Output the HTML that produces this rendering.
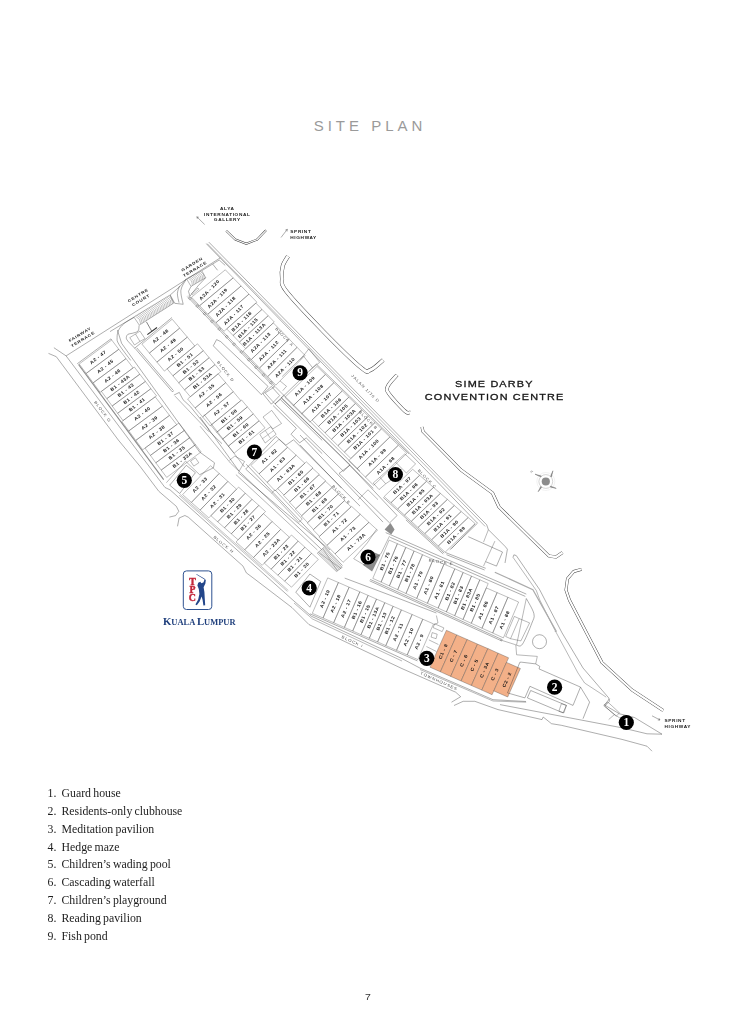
<!DOCTYPE html>
<html><head><meta charset="utf-8"><title>Site Plan</title>
<style>
html,body{margin:0;padding:0;background:#fff;}
body{width:736px;height:1024px;position:relative;overflow:hidden;font-family:"Liberation Serif",serif;}
#map{position:absolute;left:0;top:0;will-change:transform;}
.title{position:absolute;left:2px;width:736px;top:116.5px;text-align:center;font-family:"Liberation Sans",sans-serif;font-size:15px;letter-spacing:4px;color:#9a9a9a;}
.legend{position:absolute;left:47.5px;top:785px;margin:0;padding:0;list-style:none;font-size:11.8px;line-height:17.85px;color:#1d1d1d;word-spacing:-.7px}
.legend li{white-space:nowrap}
.legend span{display:inline-block;width:14px}
.pg{position:absolute;left:364.6px;top:991.6px;font-family:"Liberation Sans",sans-serif;font-size:8.4px;color:#333;transform:scaleX(1.25);transform-origin:0 0}
svg .blk polygon{stroke:#4a4a4a;stroke-width:.36}
svg .lt{font-family:"Liberation Sans",sans-serif;font-size:4.5px;font-weight:bold;letter-spacing:.3px;text-anchor:middle;dominant-baseline:central;fill:#151515}
svg .sl{font-family:"Liberation Sans",sans-serif;font-size:3.8px;font-weight:bold;letter-spacing:.5px;fill:#1a1a1a}
svg .bl{font-family:"Liberation Sans",sans-serif;font-size:3.7px;letter-spacing:.7px;fill:#4a4a4a;text-anchor:middle;dominant-baseline:central}
svg .big{font-family:"Liberation Sans",sans-serif;font-size:8.7px;letter-spacing:.92px;fill:#151515;stroke:#151515;stroke-width:.28px;text-anchor:middle}
svg .num{font-family:"Liberation Serif",serif;font-size:11.5px;font-weight:bold;fill:#fff;text-anchor:middle}
</style></head><body>
<div class="title">SITE PLAN</div>
<svg id="map" width="736" height="1024" viewBox="0 0 736 1024">
<path d="M226.2,230.7 L235.3,239.5 L246.3,243.7 L257.2,239.5 L266.0,230.3" fill="none" stroke="#333" stroke-width="2.00" stroke-linejoin="round"/>
<path d="M226.2,230.7 L235.3,239.5 L246.3,243.7 L257.2,239.5 L266.0,230.3" fill="none" stroke="#fff" stroke-width="1.20" stroke-linejoin="round"/>
<path d="M288.0,256.2 C287.1,257.8 283.8,262.1 282.8,265.8 C281.8,269.4 281.4,273.7 282.0,278.0 C282.6,282.3 279.5,282.5 286.5,291.5 C293.5,300.5 311.3,319.0 323.8,331.8 C336.2,344.5 353.5,361.4 361.2,367.8 C369.0,374.1 366.8,371.3 370.5,370.0 C374.2,368.7 381.1,361.7 383.2,360.0" fill="none" stroke="#333" stroke-width="4.00" stroke-linejoin="round"/>
<path d="M288.0,256.2 C287.1,257.8 283.8,262.1 282.8,265.8 C281.8,269.4 281.4,273.7 282.0,278.0 C282.6,282.3 279.5,282.5 286.5,291.5 C293.5,300.5 311.3,319.0 323.8,331.8 C336.2,344.5 353.5,361.4 361.2,367.8 C369.0,374.1 366.8,371.3 370.5,370.0 C374.2,368.7 381.1,361.7 383.2,360.0" fill="none" stroke="#fff" stroke-width="3.20" stroke-linejoin="round"/>
<path d="M397.0,375.0 C395.5,376.9 389.1,383.1 387.8,386.2 C386.4,389.4 386.1,389.6 389.0,393.8 C391.9,397.9 401.5,408.1 405.0,411.2 C408.5,414.4 409.2,412.3 410.0,412.5" fill="none" stroke="#333" stroke-width="3.60" stroke-linejoin="round"/>
<path d="M397.0,375.0 C395.5,376.9 389.1,383.1 387.8,386.2 C386.4,389.4 386.1,389.6 389.0,393.8 C391.9,397.9 401.5,408.1 405.0,411.2 C408.5,414.4 409.2,412.3 410.0,412.5" fill="none" stroke="#fff" stroke-width="2.80" stroke-linejoin="round"/>
<path d="M422.0,427.0 L423.0,431.5 L461.0,470.0 L492.5,493.0 L499.0,507.0 L549.0,556.0 L556.0,557.0 L562.5,552.5" fill="none" stroke="#333" stroke-width="3.10" stroke-linejoin="round"/>
<path d="M422.0,427.0 L423.0,431.5 L461.0,470.0 L492.5,493.0 L499.0,507.0 L549.0,556.0 L556.0,557.0 L562.5,552.5" fill="none" stroke="#fff" stroke-width="2.30" stroke-linejoin="round"/>
<path d="M581.5,569.3 L573.7,571.5 L567.5,578.8 L566.0,590.0 L569.4,600.0 L602.0,662.5 L632.0,690.0 L663.2,710.5" fill="none" stroke="#333" stroke-width="2.90" stroke-linejoin="round"/>
<path d="M581.5,569.3 L573.7,571.5 L567.5,578.8 L566.0,590.0 L569.4,600.0 L602.0,662.5 L632.0,690.0 L663.2,710.5" fill="none" stroke="#fff" stroke-width="2.10" stroke-linejoin="round"/>
<g class="blk"><polygon points="79.2,364.0 86.2,373.4 118.8,349.3 111.7,340.0" fill="none"/>
<text class="lt" transform="translate(98.1 357.3) rotate(-38.0) scale(1.16 1)">A2 - 47</text>
<polygon points="86.2,373.4 93.2,382.8 126.0,358.6 118.8,349.3" fill="none"/>
<text class="lt" transform="translate(105.3 366.5) rotate(-38.0) scale(1.16 1)">A2 - 45</text>
<polygon points="93.2,382.8 100.1,392.3 133.1,367.9 126.0,358.6" fill="none"/>
<text class="lt" transform="translate(112.6 375.8) rotate(-38.0) scale(1.16 1)">A2 - 46</text>
<polygon points="101.4,391.4 106.8,398.7 139.8,374.2 134.3,367.0" fill="none"/>
<text class="lt" transform="translate(120.2 383.1) rotate(-38.0) scale(1.16 1)">B1 - 43A</text>
<polygon points="106.8,398.7 112.2,406.0 145.4,381.4 139.8,374.2" fill="none"/>
<text class="lt" transform="translate(125.8 390.2) rotate(-38.0) scale(1.16 1)">B1 - 43</text>
<polygon points="112.2,406.0 117.6,413.3 150.9,388.7 145.4,381.4" fill="none"/>
<text class="lt" transform="translate(131.5 397.4) rotate(-38.0) scale(1.16 1)">B1 - 42</text>
<polygon points="117.6,413.3 123.0,420.6 156.5,395.9 150.9,388.7" fill="none"/>
<text class="lt" transform="translate(137.1 404.6) rotate(-38.0) scale(1.16 1)">B1 - 41</text>
<polygon points="121.8,421.5 128.8,430.9 162.4,406.1 155.2,396.8" fill="none"/>
<text class="lt" transform="translate(142.3 413.6) rotate(-38.0) scale(1.16 1)">A2 - 40</text>
<polygon points="128.8,430.9 135.8,440.4 169.5,415.4 162.4,406.1" fill="none"/>
<text class="lt" transform="translate(149.6 422.9) rotate(-38.0) scale(1.16 1)">A2 - 39</text>
<polygon points="135.8,440.4 142.7,449.8 176.7,424.7 169.5,415.4" fill="none"/>
<text class="lt" transform="translate(156.8 432.1) rotate(-38.0) scale(1.16 1)">A2 - 38</text>
<polygon points="145.0,448.1 150.4,455.4 184.5,430.3 178.9,423.0" fill="none"/>
<text class="lt" transform="translate(165.6 438.5) rotate(-38.0) scale(1.16 1)">B1 - 37</text>
<polygon points="150.4,455.4 155.8,462.8 190.0,437.5 184.5,430.3" fill="none"/>
<text class="lt" transform="translate(171.3 445.7) rotate(-38.0) scale(1.16 1)">B1 - 36</text>
<polygon points="155.8,462.8 161.2,470.1 195.5,444.7 190.0,437.5" fill="none"/>
<text class="lt" transform="translate(176.9 452.8) rotate(-38.0) scale(1.16 1)">B1 - 35</text>
<polygon points="161.2,470.1 166.7,477.4 201.1,451.9 195.5,444.7" fill="none"/>
<text class="lt" transform="translate(182.5 460.0) rotate(-38.0) scale(1.16 1)">B1 - 33A</text></g>
<g class="blk"><polygon points="141.9,344.1 149.4,353.1 179.7,328.1 172.2,319.2" fill="none"/>
<text class="lt" transform="translate(160.6 336.3) rotate(-39.5) scale(1.16 1)">A2 - 48</text>
<polygon points="149.4,353.1 156.9,362.1 187.3,337.1 179.7,328.1" fill="none"/>
<text class="lt" transform="translate(168.1 345.3) rotate(-39.5) scale(1.16 1)">A2 - 49</text>
<polygon points="156.9,362.1 164.4,371.1 194.8,346.0 187.3,337.1" fill="none"/>
<text class="lt" transform="translate(175.7 354.2) rotate(-39.5) scale(1.16 1)">A2 - 50</text>
<polygon points="167.1,368.8 172.9,375.8 203.3,350.7 197.5,343.8" fill="none"/>
<text class="lt" transform="translate(185.0 359.9) rotate(-39.5) scale(1.16 1)">B1 - 51</text>
<polygon points="172.9,375.8 178.7,382.8 209.2,357.7 203.3,350.7" fill="none"/>
<text class="lt" transform="translate(190.9 366.9) rotate(-39.5) scale(1.16 1)">B1 - 52</text>
<polygon points="178.7,382.8 184.5,389.8 215.0,364.6 209.2,357.7" fill="none"/>
<text class="lt" transform="translate(196.7 373.8) rotate(-39.5) scale(1.16 1)">B1 - 53</text>
<polygon points="184.5,389.8 190.3,396.7 220.9,371.6 215.0,364.6" fill="none"/>
<text class="lt" transform="translate(202.6 380.8) rotate(-39.5) scale(1.16 1)">B1 - 53A</text>
<polygon points="187.6,399.0 195.1,408.0 225.7,382.7 218.2,373.8" fill="none"/>
<text class="lt" transform="translate(206.6 390.9) rotate(-39.5) scale(1.16 1)">A2 - 55</text>
<polygon points="195.1,408.0 202.6,416.9 233.3,391.7 225.7,382.7" fill="none"/>
<text class="lt" transform="translate(214.1 399.9) rotate(-39.5) scale(1.16 1)">A2 - 56</text>
<polygon points="202.6,416.9 210.1,425.9 240.8,400.6 233.3,391.7" fill="none"/>
<text class="lt" transform="translate(221.6 408.8) rotate(-39.5) scale(1.16 1)">A2 - 57</text>
<polygon points="210.9,425.3 216.7,432.3 247.4,406.9 241.6,400.0" fill="none"/>
<text class="lt" transform="translate(229.1 416.2) rotate(-39.5) scale(1.16 1)">B1 - 58</text>
<polygon points="216.7,432.3 222.5,439.2 253.3,413.9 247.4,406.9" fill="none"/>
<text class="lt" transform="translate(234.9 423.1) rotate(-39.5) scale(1.16 1)">B1 - 59</text>
<polygon points="222.5,439.2 228.3,446.2 259.1,420.8 253.3,413.9" fill="none"/>
<text class="lt" transform="translate(240.8 430.1) rotate(-39.5) scale(1.16 1)">B1 - 60</text>
<polygon points="228.3,446.2 234.1,453.2 265.0,427.8 259.1,420.8" fill="none"/>
<text class="lt" transform="translate(246.6 437.0) rotate(-39.5) scale(1.16 1)">B1 - 61</text></g>
<g class="blk"><polygon points="191.5,297.2 199.6,305.7 233.2,277.9 225.3,269.8" fill="none"/>
<text class="lt" transform="translate(209.5 290.0) rotate(-45.0) scale(1.16 1)">A2A - 120</text>
<polygon points="199.6,305.7 207.8,314.2 241.1,286.0 233.2,277.9" fill="none"/>
<text class="lt" transform="translate(217.6 298.3) rotate(-45.0) scale(1.16 1)">A2A - 119</text>
<polygon points="207.8,314.2 216.0,322.7 249.0,294.1 241.1,286.0" fill="none"/>
<text class="lt" transform="translate(225.7 306.6) rotate(-45.0) scale(1.16 1)">A2A - 118</text>
<polygon points="216.0,322.7 224.1,331.2 256.9,302.2 249.0,294.1" fill="none"/>
<text class="lt" transform="translate(233.8 314.9) rotate(-45.0) scale(1.16 1)">A2A - 117</text>
<polygon points="226.7,328.9 233.1,335.5 262.0,309.4 255.9,303.1" fill="none"/>
<text class="lt" transform="translate(241.7 321.6) rotate(-45.0) scale(1.16 1)">B1A - 116</text>
<polygon points="233.1,335.5 239.4,342.1 268.2,315.7 262.0,309.4" fill="none"/>
<text class="lt" transform="translate(248.0 328.1) rotate(-45.0) scale(1.16 1)">B1A - 115</text>
<polygon points="239.4,342.1 245.7,348.6 274.3,322.0 268.2,315.7" fill="none"/>
<text class="lt" transform="translate(254.3 334.5) rotate(-45.0) scale(1.16 1)">B1A - 113A</text>
<polygon points="243.1,351.0 251.3,359.5 281.3,331.0 273.3,322.9" fill="none"/>
<text class="lt" transform="translate(260.7 342.6) rotate(-45.0) scale(1.16 1)">A2A - 113</text>
<polygon points="251.3,359.5 259.5,368.0 289.2,339.1 281.3,331.0" fill="none"/>
<text class="lt" transform="translate(268.8 350.9) rotate(-45.0) scale(1.16 1)">A2A - 112</text>
<polygon points="259.5,368.0 267.7,376.6 297.1,347.3 289.2,339.1" fill="none"/>
<text class="lt" transform="translate(276.9 359.2) rotate(-45.0) scale(1.16 1)">A2A - 111</text>
<polygon points="267.7,376.6 275.9,385.1 305.0,355.4 297.1,347.3" fill="none"/>
<text class="lt" transform="translate(285.0 367.5) rotate(-45.0) scale(1.16 1)">A2A - 110</text></g>
<g class="blk"><polygon points="284.9,397.3 293.3,405.6 325.4,374.5 317.0,366.4" fill="none"/>
<text class="lt" transform="translate(304.8 386.3) rotate(-44.0) scale(1.16 1)">A1A - 109</text>
<polygon points="293.3,405.6 301.6,413.9 333.9,382.7 325.4,374.5" fill="none"/>
<text class="lt" transform="translate(313.2 394.5) rotate(-44.0) scale(1.16 1)">A1A - 108</text>
<polygon points="301.6,413.9 309.9,422.1 342.3,390.9 333.9,382.7" fill="none"/>
<text class="lt" transform="translate(321.6 402.7) rotate(-44.0) scale(1.16 1)">A1A - 107</text>
<polygon points="312.1,420.0 318.5,426.4 348.8,397.2 342.3,390.9" fill="none"/>
<text class="lt" transform="translate(331.2 407.9) rotate(-44.0) scale(1.16 1)">B1A - 106</text>
<polygon points="318.5,426.4 325.0,432.8 355.4,403.5 348.8,397.2" fill="none"/>
<text class="lt" transform="translate(337.7 414.3) rotate(-44.0) scale(1.16 1)">B1A - 105</text>
<polygon points="325.0,432.8 331.5,439.3 361.9,409.9 355.4,403.5" fill="none"/>
<text class="lt" transform="translate(344.2 420.7) rotate(-44.0) scale(1.16 1)">B1A - 103A</text>
<polygon points="331.5,439.3 337.9,445.7 368.4,416.2 361.9,409.9" fill="none"/>
<text class="lt" transform="translate(350.7 427.1) rotate(-44.0) scale(1.16 1)">B1A - 103</text>
<polygon points="337.9,445.7 344.4,452.1 375.0,422.5 368.4,416.2" fill="none"/>
<text class="lt" transform="translate(357.2 433.4) rotate(-44.0) scale(1.16 1)">B1A - 102</text>
<polygon points="344.4,452.1 350.9,458.5 381.5,428.9 375.0,422.5" fill="none"/>
<text class="lt" transform="translate(363.7 439.8) rotate(-44.0) scale(1.16 1)">B1A - 101</text>
<polygon points="348.7,460.6 357.0,468.8 389.9,437.0 381.5,428.9" fill="none"/>
<text class="lt" transform="translate(368.9 449.2) rotate(-44.0) scale(1.16 1)">A1A - 100</text>
<polygon points="357.0,468.8 365.4,477.1 398.4,445.2 389.9,437.0" fill="none"/>
<text class="lt" transform="translate(377.3 457.4) rotate(-44.0) scale(1.16 1)">A1A - 99</text>
<polygon points="365.4,477.1 373.7,485.3 406.8,453.4 398.4,445.2" fill="none"/>
<text class="lt" transform="translate(385.7 465.6) rotate(-44.0) scale(1.16 1)">A1A - 98</text></g>
<g class="blk"><polygon points="384.2,496.5 391.0,502.7 419.6,475.3 412.7,469.3" fill="none"/>
<text class="lt" transform="translate(402.3 485.5) rotate(-43.7) scale(1.16 1)">B1A - 97</text>
<polygon points="391.0,502.7 397.7,508.9 426.5,481.3 419.6,475.3" fill="none"/>
<text class="lt" transform="translate(409.0 491.7) rotate(-43.7) scale(1.16 1)">B1A - 96</text>
<polygon points="397.7,508.9 404.5,515.1 433.5,487.4 426.5,481.3" fill="none"/>
<text class="lt" transform="translate(415.8 497.9) rotate(-43.7) scale(1.16 1)">B1A - 95</text>
<polygon points="404.5,515.1 411.3,521.3 440.4,493.4 433.5,487.4" fill="none"/>
<text class="lt" transform="translate(422.5 504.2) rotate(-43.7) scale(1.16 1)">B1A - 93A</text>
<polygon points="411.3,521.3 418.0,527.5 447.4,499.4 440.4,493.4" fill="none"/>
<text class="lt" transform="translate(429.2 510.4) rotate(-43.7) scale(1.16 1)">B1A - 93</text>
<polygon points="418.0,527.5 424.8,533.6 454.3,505.5 447.4,499.4" fill="none"/>
<text class="lt" transform="translate(436.0 516.6) rotate(-43.7) scale(1.16 1)">B1A - 92</text>
<polygon points="424.8,533.6 431.6,539.8 461.2,511.5 454.3,505.5" fill="none"/>
<text class="lt" transform="translate(442.7 522.8) rotate(-43.7) scale(1.16 1)">B1A - 91</text>
<polygon points="431.6,539.8 438.3,546.0 468.2,517.5 461.2,511.5" fill="none"/>
<text class="lt" transform="translate(449.5 529.1) rotate(-43.7) scale(1.16 1)">B1A - 90</text>
<polygon points="438.3,546.0 445.1,552.2 475.1,523.6 468.2,517.5" fill="none"/>
<text class="lt" transform="translate(456.2 535.3) rotate(-43.7) scale(1.16 1)">B1A - 89</text></g>
<g class="blk"><polygon points="250.9,465.4 259.0,473.9 287.6,447.3 279.0,439.3" fill="none"/>
<text class="lt" transform="translate(269.3 456.3) rotate(-43.0) scale(1.16 1)">A1 - 62</text>
<polygon points="259.0,473.9 267.1,482.4 296.2,455.2 287.6,447.3" fill="none"/>
<text class="lt" transform="translate(277.6 464.5) rotate(-43.0) scale(1.16 1)">A1 - 63</text>
<polygon points="267.1,482.4 275.1,490.9 304.8,463.2 296.2,455.2" fill="none"/>
<text class="lt" transform="translate(286.0 472.7) rotate(-43.0) scale(1.16 1)">A1 - 63A</text>
<polygon points="277.7,488.5 283.9,495.0 313.0,468.0 306.3,461.8" fill="none"/>
<text class="lt" transform="translate(295.9 477.6) rotate(-43.0) scale(1.16 1)">B1 - 65</text>
<polygon points="283.6,495.4 289.9,501.9 319.3,474.4 312.6,468.3" fill="none"/>
<text class="lt" transform="translate(301.9 484.5) rotate(-43.0) scale(1.16 1)">B1 - 66</text>
<polygon points="289.5,502.2 295.8,508.8 325.7,480.9 319.0,474.8" fill="none"/>
<text class="lt" transform="translate(307.8 491.4) rotate(-43.0) scale(1.16 1)">B1 - 67</text>
<polygon points="295.4,509.1 301.7,515.7 332.1,487.4 325.4,481.2" fill="none"/>
<text class="lt" transform="translate(313.7 498.3) rotate(-43.0) scale(1.16 1)">B1 - 68</text>
<polygon points="301.4,516.0 307.6,522.6 338.4,493.9 331.7,487.7" fill="none"/>
<text class="lt" transform="translate(319.6 505.2) rotate(-43.0) scale(1.16 1)">B1 - 69</text>
<polygon points="307.3,522.9 313.5,529.5 344.8,500.4 338.1,494.2" fill="none"/>
<text class="lt" transform="translate(325.6 512.1) rotate(-43.0) scale(1.16 1)">B1 - 70</text>
<polygon points="313.2,529.8 319.5,536.4 351.1,506.8 344.4,500.7" fill="none"/>
<text class="lt" transform="translate(331.5 519.0) rotate(-43.0) scale(1.16 1)">B1 - 71</text>
<polygon points="318.9,536.9 326.9,545.4 360.3,514.3 351.6,506.4" fill="none"/>
<text class="lt" transform="translate(339.6 525.6) rotate(-43.0) scale(1.16 1)">A1 - 72</text>
<polygon points="326.9,545.4 335.0,553.9 368.9,522.3 360.3,514.3" fill="none"/>
<text class="lt" transform="translate(348.0 533.8) rotate(-43.0) scale(1.16 1)">A1 - 73</text>
<polygon points="335.0,553.9 343.1,562.3 377.5,530.2 368.9,522.3" fill="none"/>
<text class="lt" transform="translate(356.3 542.0) rotate(-43.0) scale(1.16 1)">A1 - 73A</text></g>
<g class="blk"><polygon points="182.6,494.6 191.4,502.4 219.2,473.5 210.5,465.7" fill="none"/>
<text class="lt" transform="translate(200.0 485.0) rotate(-46.0) scale(1.16 1)">A2 - 33</text>
<polygon points="191.4,502.4 200.1,510.1 227.9,481.4 219.2,473.5" fill="none"/>
<text class="lt" transform="translate(208.8 492.7) rotate(-46.0) scale(1.16 1)">A2 - 32</text>
<polygon points="200.1,510.1 208.8,517.9 236.5,489.2 227.9,481.4" fill="none"/>
<text class="lt" transform="translate(217.6 500.4) rotate(-46.0) scale(1.16 1)">A2 - 31</text>
<polygon points="210.9,515.7 217.7,521.8 245.3,493.2 238.6,487.1" fill="none"/>
<text class="lt" transform="translate(227.5 505.1) rotate(-46.0) scale(1.16 1)">B1 - 30</text>
<polygon points="217.7,521.8 224.5,527.8 252.0,499.3 245.3,493.2" fill="none"/>
<text class="lt" transform="translate(234.4 511.1) rotate(-46.0) scale(1.16 1)">B1 - 29</text>
<polygon points="224.5,527.8 231.3,533.8 258.8,505.4 252.0,499.3" fill="none"/>
<text class="lt" transform="translate(241.2 517.0) rotate(-46.0) scale(1.16 1)">B1 - 28</text>
<polygon points="231.3,533.8 238.1,539.8 265.5,511.5 258.8,505.4" fill="none"/>
<text class="lt" transform="translate(248.0 523.0) rotate(-46.0) scale(1.16 1)">B1 - 27</text>
<polygon points="236.0,542.0 244.7,549.8 272.1,521.5 263.4,513.6" fill="none"/>
<text class="lt" transform="translate(253.8 532.0) rotate(-46.0) scale(1.16 1)">A2 - 26</text>
<polygon points="244.7,549.8 253.5,557.5 280.7,529.3 272.1,521.5" fill="none"/>
<text class="lt" transform="translate(262.6 539.7) rotate(-46.0) scale(1.16 1)">A2 - 25</text>
<polygon points="253.5,557.5 262.2,565.3 289.4,537.2 280.7,529.3" fill="none"/>
<text class="lt" transform="translate(271.4 547.4) rotate(-46.0) scale(1.16 1)">A2 - 23A</text>
<polygon points="264.3,563.1 271.1,569.2 298.2,541.1 291.5,535.0" fill="none"/>
<text class="lt" transform="translate(281.3 552.1) rotate(-46.0) scale(1.16 1)">B1 - 23</text>
<polygon points="271.1,569.2 277.9,575.2 304.9,547.2 298.2,541.1" fill="none"/>
<text class="lt" transform="translate(288.1 558.1) rotate(-46.0) scale(1.16 1)">B1 - 22</text>
<polygon points="277.9,575.2 284.7,581.2 311.6,553.3 304.9,547.2" fill="none"/>
<text class="lt" transform="translate(295.0 564.0) rotate(-46.0) scale(1.16 1)">B1 - 21</text>
<polygon points="284.7,581.2 291.5,587.2 318.3,559.4 311.6,553.3" fill="none"/>
<text class="lt" transform="translate(301.8 570.0) rotate(-46.0) scale(1.16 1)">B1 - 20</text></g>
<g class="blk"><polygon points="312.3,613.3 323.0,618.0 338.4,582.5 327.7,577.9" fill="none"/>
<text class="lt" transform="translate(325.0 598.8) rotate(-66.5) scale(1.16 1)">A2 - 19</text>
<polygon points="323.0,618.0 333.7,622.7 349.1,587.2 338.4,582.5" fill="none"/>
<text class="lt" transform="translate(335.6 603.6) rotate(-66.5) scale(1.16 1)">A2 - 18</text>
<polygon points="333.7,622.7 344.4,627.4 359.8,591.8 349.1,587.2" fill="none"/>
<text class="lt" transform="translate(346.2 608.5) rotate(-66.5) scale(1.16 1)">A2 - 17</text>
<polygon points="344.4,627.4 352.7,631.0 368.1,595.4 359.8,591.8" fill="none"/>
<text class="lt" transform="translate(356.9 610.0) rotate(-66.5) scale(1.16 1)">B1 - 16</text>
<polygon points="352.7,631.0 361.0,634.7 376.5,599.1 368.1,595.4" fill="none"/>
<text class="lt" transform="translate(365.1 613.8) rotate(-66.5) scale(1.16 1)">B1 - 15</text>
<polygon points="361.0,634.7 369.3,638.3 384.8,602.7 376.5,599.1" fill="none"/>
<text class="lt" transform="translate(373.3 617.5) rotate(-66.5) scale(1.16 1)">B1 - 13A</text>
<polygon points="369.3,638.3 377.6,641.9 393.1,606.3 384.8,602.7" fill="none"/>
<text class="lt" transform="translate(381.6 621.3) rotate(-66.5) scale(1.16 1)">B1 - 13</text>
<polygon points="377.6,641.9 385.8,645.6 401.4,609.9 393.1,606.3" fill="none"/>
<text class="lt" transform="translate(389.8 625.1) rotate(-66.5) scale(1.16 1)">B1 - 12</text>
<polygon points="385.8,645.6 396.5,650.3 412.1,614.5 401.4,609.9" fill="none"/>
<text class="lt" transform="translate(398.1 632.1) rotate(-66.5) scale(1.16 1)">A2 - 11</text>
<polygon points="396.5,650.3 407.2,654.9 422.8,619.2 412.1,614.5" fill="none"/>
<text class="lt" transform="translate(408.7 637.0) rotate(-66.5) scale(1.16 1)">A2 - 10</text>
<polygon points="407.2,654.9 417.9,659.6 433.5,623.9 422.8,619.2" fill="none"/>
<text class="lt" transform="translate(419.3 641.8) rotate(-66.5) scale(1.16 1)">A2 - 9</text></g>
<g class="blk"><polygon points="372.8,578.4 381.1,582.1 397.4,543.7 389.1,540.1" fill="none"/>
<text class="lt" transform="translate(385.0 561.3) rotate(-67.0) scale(1.16 1)">B1 - 75</text>
<polygon points="381.1,582.1 389.4,585.9 405.8,547.4 397.4,543.7" fill="none"/>
<text class="lt" transform="translate(393.3 565.1) rotate(-67.0) scale(1.16 1)">B1 - 76</text>
<polygon points="389.4,585.9 397.7,589.7 414.1,551.0 405.8,547.4" fill="none"/>
<text class="lt" transform="translate(401.6 568.9) rotate(-67.0) scale(1.16 1)">B1 - 77</text>
<polygon points="397.7,589.7 406.0,593.5 422.5,554.7 414.1,551.0" fill="none"/>
<text class="lt" transform="translate(409.9 572.7) rotate(-67.0) scale(1.16 1)">B1 - 78</text>
<polygon points="406.0,593.5 416.7,598.4 433.2,559.4 422.5,554.7" fill="none"/>
<text class="lt" transform="translate(418.0 580.3) rotate(-67.0) scale(1.16 1)">A1 - 79</text>
<polygon points="416.7,598.4 427.4,603.3 444.0,564.1 433.2,559.4" fill="none"/>
<text class="lt" transform="translate(428.7 585.2) rotate(-67.0) scale(1.16 1)">A1 - 80</text>
<polygon points="427.4,603.3 438.1,608.1 454.8,568.8 444.0,564.1" fill="none"/>
<text class="lt" transform="translate(439.4 590.1) rotate(-67.0) scale(1.16 1)">A1 - 81</text>
<polygon points="438.1,608.1 446.4,611.9 463.1,572.5 454.8,568.8" fill="none"/>
<text class="lt" transform="translate(450.2 591.2) rotate(-67.0) scale(1.16 1)">B1 - 82</text>
<polygon points="446.4,611.9 454.7,615.7 471.5,576.1 463.1,572.5" fill="none"/>
<text class="lt" transform="translate(458.5 595.0) rotate(-67.0) scale(1.16 1)">B1 - 83</text>
<polygon points="454.7,615.7 463.0,619.5 479.8,579.8 471.5,576.1" fill="none"/>
<text class="lt" transform="translate(466.8 598.8) rotate(-67.0) scale(1.16 1)">B1 - 83A</text>
<polygon points="463.0,619.5 471.3,623.3 488.2,583.5 479.8,579.8" fill="none"/>
<text class="lt" transform="translate(475.1 602.6) rotate(-67.0) scale(1.16 1)">B1 - 85</text>
<polygon points="471.3,623.3 482.0,628.2 497.1,592.6 486.3,587.9" fill="none"/>
<text class="lt" transform="translate(483.2 610.2) rotate(-67.0) scale(1.16 1)">A1 - 86</text>
<polygon points="482.0,628.2 492.7,633.0 507.9,597.3 497.1,592.6" fill="none"/>
<text class="lt" transform="translate(493.9 615.1) rotate(-67.0) scale(1.16 1)">A1 - 87</text>
<polygon points="492.7,633.0 503.4,637.9 518.6,602.0 507.9,597.3" fill="none"/>
<text class="lt" transform="translate(504.6 620.0) rotate(-67.0) scale(1.16 1)">A1 - 88</text></g>
<g class="blk"><polygon points="430.0,667.2 440.4,671.8 456.8,634.9 446.4,630.3" fill="#f3b088"/>
<text class="lt" transform="translate(443.2 651.5) rotate(-66.0) scale(1.16 1)">C1 - 8</text>
<polygon points="440.4,671.8 450.7,676.4 467.2,639.5 456.8,634.9" fill="#f3b088"/>
<text class="lt" transform="translate(453.6 656.1) rotate(-66.0) scale(1.16 1)">C - 7</text>
<polygon points="450.7,676.4 461.1,681.0 477.5,644.1 467.2,639.5" fill="#f3b088"/>
<text class="lt" transform="translate(463.9 660.7) rotate(-66.0) scale(1.16 1)">C - 6</text>
<polygon points="461.1,681.0 471.4,685.5 487.9,648.6 477.5,644.1" fill="#f3b088"/>
<text class="lt" transform="translate(474.3 665.3) rotate(-66.0) scale(1.16 1)">C - 5</text>
<polygon points="471.4,685.5 481.8,690.1 498.2,653.2 487.9,648.6" fill="#f3b088"/>
<text class="lt" transform="translate(484.6 669.8) rotate(-66.0) scale(1.16 1)">C - 3A</text>
<polygon points="481.8,690.1 492.1,694.7 508.6,657.8 498.2,653.2" fill="#f3b088"/>
<text class="lt" transform="translate(495.0 674.4) rotate(-66.0) scale(1.16 1)">C - 3</text>
<polygon points="493.8,690.9 507.7,697.0 520.4,668.5 506.5,662.4" fill="#f3b088"/>
<text class="lt" transform="translate(507.1 679.8) rotate(-66.0) scale(1.16 1)">C2 - 2</text></g>
<path d="M208.8,242.1 L486.7,524.8 L488.4,529.7 L505.2,546.5 L507.4,549.2 L505.0,563.0" fill="none" stroke="#333" stroke-width="0.4" />
<path d="M206.3,243.7 L477.5,523.2 L449.8,549.8" fill="none" stroke="#333" stroke-width="0.4" />
<path d="M207.2,243.6 L485.1,526.4" fill="none" stroke="#333" stroke-width="0.35" />
<path d="M48.5,353.4 L56.3,356.7 L118.3,440.0 L140.0,466.3 L158.8,491.3 L176.3,506.3 L178.8,511.3 L175.6,515.6 L169.4,517.1" fill="none" stroke="#333" stroke-width="0.4" />
<path d="M53.9,347.7 L66.1,355.9 L165.0,487.5" fill="none" stroke="#333" stroke-width="0.4" />
<path d="M66.1,355.9 L220.2,257.9" fill="none" stroke="#333" stroke-width="0.4" />
<path d="M110.0,331.6 L134.1,317.0" fill="none" stroke="#333" stroke-width="0.4" />
<path d="M170.0,295.2 L180.7,285.7 L186.1,278.8" fill="none" stroke="#333" stroke-width="0.4" />
<path d="M201.8,270.7 L219.2,260.0 L225.2,265.4" fill="none" stroke="#333" stroke-width="0.4" />
<path d="M212.7,264.1 L217.6,270.3" fill="none" stroke="#333" stroke-width="0.4" />
<path d="M133.9,317.0 L169.8,295.2 L173.9,303.0 L139.3,325.1Z" fill="none" stroke="#333" stroke-width="0.35" />
<path d="M135.4,316.1 L139.4,319.3 L140.8,324.2" fill="none" stroke="#333" stroke-width="0.3" />
<path d="M136.9,315.1 L140.9,318.4 L142.2,323.3" fill="none" stroke="#333" stroke-width="0.3" />
<path d="M138.4,314.2 L142.4,317.5 L143.7,322.4" fill="none" stroke="#333" stroke-width="0.3" />
<path d="M139.9,313.3 L143.8,316.6 L145.1,321.4" fill="none" stroke="#333" stroke-width="0.3" />
<path d="M141.4,312.4 L145.3,315.7 L146.5,320.5" fill="none" stroke="#333" stroke-width="0.3" />
<path d="M142.9,311.5 L146.8,314.7 L148.0,319.6" fill="none" stroke="#333" stroke-width="0.3" />
<path d="M144.4,310.6 L148.2,313.8 L149.4,318.7" fill="none" stroke="#333" stroke-width="0.3" />
<path d="M145.9,309.7 L149.7,312.9 L150.9,317.8" fill="none" stroke="#333" stroke-width="0.3" />
<path d="M147.4,308.8 L151.2,312.0 L152.3,316.8" fill="none" stroke="#333" stroke-width="0.3" />
<path d="M148.9,307.9 L152.6,311.1 L153.8,315.9" fill="none" stroke="#333" stroke-width="0.3" />
<path d="M150.4,307.0 L154.1,310.2 L155.2,315.0" fill="none" stroke="#333" stroke-width="0.3" />
<path d="M151.8,306.1 L155.6,309.3 L156.6,314.1" fill="none" stroke="#333" stroke-width="0.3" />
<path d="M153.3,305.2 L157.1,308.4 L158.1,313.2" fill="none" stroke="#333" stroke-width="0.3" />
<path d="M154.8,304.3 L158.5,307.4 L159.5,312.2" fill="none" stroke="#333" stroke-width="0.3" />
<path d="M156.3,303.4 L160.0,306.5 L161.0,311.3" fill="none" stroke="#333" stroke-width="0.3" />
<path d="M157.8,302.5 L161.5,305.6 L162.4,310.4" fill="none" stroke="#333" stroke-width="0.3" />
<path d="M159.3,301.6 L162.9,304.7 L163.8,309.5" fill="none" stroke="#333" stroke-width="0.3" />
<path d="M160.8,300.7 L164.4,303.8 L165.3,308.6" fill="none" stroke="#333" stroke-width="0.3" />
<path d="M162.3,299.7 L165.9,302.9 L166.7,307.6" fill="none" stroke="#333" stroke-width="0.3" />
<path d="M163.8,298.8 L167.3,302.0 L168.2,306.7" fill="none" stroke="#333" stroke-width="0.3" />
<path d="M165.3,297.9 L168.8,301.1 L169.6,305.8" fill="none" stroke="#333" stroke-width="0.3" />
<path d="M166.8,297.0 L170.3,300.1 L171.0,304.9" fill="none" stroke="#333" stroke-width="0.3" />
<path d="M168.3,296.1 L171.7,299.2 L172.5,304.0" fill="none" stroke="#333" stroke-width="0.3" />
<path d="M186.6,278.8 L201.8,270.7 L205.7,277.7 L191.0,286.4Z" fill="none" stroke="#333" stroke-width="0.35" />
<path d="M188.2,278.0 L191.7,281.0 L192.4,285.5" fill="none" stroke="#333" stroke-width="0.3" />
<path d="M189.7,277.2 L193.2,280.2 L193.9,284.7" fill="none" stroke="#333" stroke-width="0.3" />
<path d="M191.2,276.4 L194.7,279.3 L195.4,283.8" fill="none" stroke="#333" stroke-width="0.3" />
<path d="M192.7,275.5 L196.2,278.5 L196.8,282.9" fill="none" stroke="#333" stroke-width="0.3" />
<path d="M194.2,274.7 L197.6,277.7 L198.3,282.1" fill="none" stroke="#333" stroke-width="0.3" />
<path d="M195.8,273.9 L199.1,276.8 L199.8,281.2" fill="none" stroke="#333" stroke-width="0.3" />
<path d="M197.3,273.1 L200.6,276.0 L201.2,280.3" fill="none" stroke="#333" stroke-width="0.3" />
<path d="M198.8,272.3 L202.1,275.1 L202.7,279.5" fill="none" stroke="#333" stroke-width="0.3" />
<path d="M200.3,271.5 L203.6,274.3 L204.2,278.6" fill="none" stroke="#333" stroke-width="0.3" />
<path d="M179.6,285.9 C179.2,287.1 177.5,290.7 177.4,293.5 C177.3,296.3 178.8,301.2 179.0,302.7" fill="none" stroke="#333" stroke-width="0.4" />
<path d="M186.1,279.6 C185.2,281.3 181.4,286.1 180.9,290.2 C180.4,294.3 182.8,302.0 183.2,304.3" fill="none" stroke="#333" stroke-width="0.4" />
<path d="M170.3,295.1 L174.7,303.3 L183.2,304.3" fill="none" stroke="#333" stroke-width="0.4" />
<path d="M191.0,286.4 L188.5,291.3 L189.9,296.2 L198.0,285.9 L205.7,277.7" fill="none" stroke="#333" stroke-width="0.4" />
<path d="M191.5,293.5 L198.0,288.0 L198.9,289.3 L192.4,294.8Z" fill="none" stroke="#333" stroke-width="0.3" />
<path d="M133.9,317.5 C132.3,318.5 126.7,321.4 124.1,323.5 C121.6,325.6 119.9,327.6 118.7,330.0 C117.5,332.4 117.0,335.2 117.1,337.6 C117.1,340.0 116.6,340.5 118.9,344.3 C121.2,348.2 128.7,357.8 130.7,360.4" fill="none" stroke="#333" stroke-width="0.4" />
<path d="M139.1,325.4 C138.9,326.4 139.2,329.8 138.0,331.1 C136.9,332.4 134.0,332.7 132.3,333.3 C130.6,333.8 128.9,333.6 127.9,334.3 C126.9,335.1 126.3,336.5 126.3,337.6 C126.3,338.7 126.4,339.2 127.9,341.1 C129.4,342.9 134.0,347.4 135.2,348.7" fill="none" stroke="#333" stroke-width="0.4" />
<path d="M129.8,337.6 L135.5,334.0 L139.9,341.4 L134.5,345.0Z" fill="none" stroke="#333" stroke-width="0.35" />
<path d="M135.5,334.0 L139.9,331.1 L145.0,338.7 L139.9,341.4" fill="none" stroke="#333" stroke-width="0.35" />
<path d="M146.4,321.8 L151.8,331.3" fill="none" stroke="#333" stroke-width="0.6" />
<path d="M147.3,334.6 L157.0,327.5" fill="none" stroke="#333" stroke-width="1.1" />
<path d="M134.5,348.3 L172.0,317.5" fill="none" stroke="#333" stroke-width="0.4" />
<g id="compass"><circle cx="545.8" cy="481.5" r="9" fill="none" stroke="#ddd" stroke-width=".4"/><circle cx="545.8" cy="481.5" r="6.9" fill="none" stroke="#aaa" stroke-width=".5"/><circle cx="545.8" cy="481.5" r="4.1" fill="#8c8c8c"/><path d="M540.6,476.8 L535,474.2 L541.4,476 Z M550.6,476.3 L552.9,470.8 L551.4,477.1 Z M550.9,486.2 L556.2,488.4 L550.1,487 Z M541.6,487.3 L538.2,491.7 L540.8,486.4 Z" fill="#777" stroke="#777" stroke-width=".5"/><text x="531.7" y="473" transform="rotate(-50 531.7 471.7)" font-family="Liberation Sans,sans-serif" font-size="3.6" fill="#999" text-anchor="middle">N</text></g>
<g id="logo"><rect x="183.3" y="570.9" width="28.5" height="38.6" rx="3.2" fill="#fff" stroke="#2d5190" stroke-width="1"/><g font-family="Liberation Serif,serif" font-weight="bold" font-size="9.8" fill="#c3283c" stroke="#c3283c" stroke-width=".45" text-anchor="middle"><text x="192.4" y="584.6">T</text><text x="192.4" y="592.8">P</text><text x="192.4" y="601">C</text></g><path d="M196.5,574 L204.3,578.6 L205.8,580 L205.4,583.5 L203.6,587.2 L204.4,592 L204.8,599 L205.2,605.2 L203.4,605.4 L202.6,600 L201.6,596.5 L199.6,601.4 L196.8,605.3 L195.4,604.4 L198.2,599.6 L199.4,594 L198.8,589 L197.4,585.6 L198.2,582.8 L200.4,581.8 L201.2,583.2 L203.4,582.6 L204.6,579.6 L196.3,574.4 Z" fill="#23468a"/><g font-family="Liberation Serif,serif" font-weight="bold" fill="#1f3f7c"><text x="163" y="625" font-size="10.2" textLength="72.5" lengthAdjust="spacingAndGlyphs">K<tspan font-size="8">UALA </tspan>L<tspan font-size="8">UMPUR</tspan></text></g></g>
<g transform="translate(227.3 210.4) rotate(0.0)"><text class="sl" text-anchor="middle" transform="translate(0 0.0) scale(1.25 1)">ALYA</text><text class="sl" text-anchor="middle" transform="translate(0 5.3) scale(1.25 1)">INTERNATIONAL</text><text class="sl" text-anchor="middle" transform="translate(0 10.6) scale(1.25 1)">GALLERY</text></g>
<g transform="translate(290.3 233.0) rotate(0.0)"><text class="sl" text-anchor="start" transform="translate(0 0.0) scale(1.25 1)">SPRINT</text><text class="sl" text-anchor="start" transform="translate(0 5.6) scale(1.25 1)">HIGHWAY</text></g>
<g transform="translate(664.5 722.0) rotate(0.0)"><text class="sl" text-anchor="start" transform="translate(0 0.0) scale(1.25 1)">SPRINT</text><text class="sl" text-anchor="start" transform="translate(0 5.7) scale(1.25 1)">HIGHWAY</text></g>
<g transform="translate(80.7 335.6) rotate(-31.0)"><text class="sl" text-anchor="middle" transform="translate(0 0.0) scale(1.25 1)">FAIRWAY</text><text class="sl" text-anchor="middle" transform="translate(0 5.6) scale(1.25 1)">TERRACE</text></g>
<g transform="translate(138.7 296.5) rotate(-31.0)"><text class="sl" text-anchor="middle" transform="translate(0 0.0) scale(1.25 1)">CENTRE</text><text class="sl" text-anchor="middle" transform="translate(0 5.6) scale(1.25 1)">COURT</text></g>
<g transform="translate(192.7 265.5) rotate(-31.0)"><text class="sl" text-anchor="middle" transform="translate(0 0.0) scale(1.25 1)">GARDEN</text><text class="sl" text-anchor="middle" transform="translate(0 5.6) scale(1.25 1)">TERRACE</text></g>
<path d="M204.7,224.5 L196.8,216.8" fill="none" stroke="#333" stroke-width="0.4" />
<path d="M196.8,216.8 L198.9,217.3" fill="none" stroke="#333" stroke-width="0.4" />
<path d="M196.8,216.8 L197.4,218.9" fill="none" stroke="#333" stroke-width="0.4" />
<path d="M281.0,237.5 L287.3,229.3" fill="none" stroke="#333" stroke-width="0.4" />
<path d="M287.3,229.3 L287.1,231.5" fill="none" stroke="#333" stroke-width="0.4" />
<path d="M287.3,229.3 L285.3,230.1" fill="none" stroke="#333" stroke-width="0.4" />
<path d="M652.0,715.8 L660.0,720.0" fill="none" stroke="#333" stroke-width="0.4" />
<path d="M660.0,720.0 L657.8,720.1" fill="none" stroke="#333" stroke-width="0.4" />
<path d="M660.0,720.0 L658.9,718.1" fill="none" stroke="#333" stroke-width="0.4" />
<text class="big" transform="translate(494.3 387) scale(1.25 1)">SIME DARBY</text><text class="big" transform="translate(494.6 399.5) scale(1.25 1)">CONVENTION CENTRE</text>
<text class="bl" transform="translate(102.8 411.6) rotate(53.0) scale(1.2 1)">BLOCK G</text>
<text class="bl" transform="translate(225.7 371.5) rotate(52.0) scale(1.2 1)">BLOCK D</text>
<text class="bl" transform="translate(284.5 337.0) rotate(46.0) scale(1.2 1)">BLOCK A</text>
<text class="bl" transform="translate(341.5 494.7) rotate(46.0) scale(1.2 1)">BLOCK E</text>
<text class="bl" transform="translate(368.3 420.0) rotate(46.0) scale(1.2 1)">BLOCK B</text>
<text class="bl" transform="translate(427.2 478.8) rotate(46.0) scale(1.2 1)">BLOCK C</text>
<text class="bl" transform="translate(223.7 544.5) rotate(40.0) scale(1.2 1)">BLOCK H</text>
<text class="bl" transform="translate(352.5 641.5) rotate(25.0) scale(1.2 1)">BLOCK I</text>
<text class="bl" transform="translate(441.0 562.0) rotate(10.0) scale(1.2 1)">BLOCK F</text>
<text class="bl" transform="translate(439.1 681.1) rotate(24.3) scale(1.2 1)">TOWNHOUSES</text>
<text class="bl" transform="translate(365.5 388.5) rotate(45.0) scale(1.2 1)">JALAN 1/70 D</text>
<path d="M78.5,364.5 L163.7,479.6" fill="none" stroke="#8a8a8a" stroke-width="1.1" />
<path d="M77.2,363.8 L110.9,338.9 L111.7,340.0" fill="none" stroke="#333" stroke-width="0.4" />
<path d="M117.4,330.0 L121.6,343.3 L199.6,452.0 L214.5,462.8 L213.4,467.8 L199.6,474.7" fill="none" stroke="#333" stroke-width="0.4" />
<path d="M135.7,349.1 L172.2,391.7 L173.9,390.7" fill="none" stroke="#333" stroke-width="0.4" />
<path d="M136.8,347.9 L173.0,390.1" fill="none" stroke="#333" stroke-width="0.4" />
<path d="M173.9,395.1 L179.3,392.4 L183.0,399.7 L190.5,406.7 L207.9,428.3 L209.5,431.6 L222.0,443.7" fill="none" stroke="#333" stroke-width="0.4" />
<path d="M175.0,396.1 L208.7,431.6" fill="none" stroke="#333" stroke-width="0.35" />
<path d="M169.7,485.2 L186.3,465.3 L195.4,472.7 L179.7,493.5Z" fill="none" stroke="#333" stroke-width="0.4" />
<path d="M190.5,461.1 L195.4,457.8 L198.8,462.8 L193.8,466.1Z" fill="none" stroke="#333" stroke-width="0.35" />
<path d="M166.4,482.7 L185.5,461.1 L199.6,474.7" fill="none" stroke="#333" stroke-width="0.35" />
<path d="M216.6,339.6 L220.7,341.6 L268.0,386.4 L261.4,394.7 L213.3,345.8Z" fill="none" stroke="#333" stroke-width="0.4" />
<path d="M263.1,393.9 L271.4,386.4 L279.7,395.6 L271.4,404.2Z" fill="none" stroke="#333" stroke-width="0.4" />
<path d="M280.5,399.7 L322.2,440.4" fill="none" stroke="#333" stroke-width="0.4" />
<path d="M273.0,405.5 L296.3,428.3 L291.0,434.2 L299.6,442.9 L306.2,437.9 L322.2,453.7" fill="none" stroke="#333" stroke-width="0.4" />
<path d="M188.4,295.7 L275.0,385.9" fill="none" stroke="#333" stroke-width="0.4" />
<path d="M187.3,296.6 L274.0,386.9" fill="none" stroke="#333" stroke-width="0.4" />
<path d="M190.3,297.0 L191.6,298.3 L189.7,299.8 L188.4,298.5Z" fill="none" stroke="#333" stroke-width="0.3" />
<path d="M197.6,304.6 L198.9,305.9 L197.0,307.5 L195.8,306.1Z" fill="none" stroke="#333" stroke-width="0.3" />
<path d="M205.0,312.3 L206.2,313.6 L204.4,315.1 L203.1,313.8Z" fill="none" stroke="#333" stroke-width="0.3" />
<path d="M212.3,319.9 L213.6,321.2 L211.7,322.8 L210.5,321.5Z" fill="none" stroke="#333" stroke-width="0.3" />
<path d="M219.6,327.5 L220.9,328.9 L219.1,330.5 L217.8,329.1Z" fill="none" stroke="#333" stroke-width="0.3" />
<path d="M227.0,335.2 L228.2,336.5 L226.5,338.1 L225.2,336.8Z" fill="none" stroke="#333" stroke-width="0.3" />
<path d="M234.3,342.8 L235.6,344.2 L233.8,345.8 L232.5,344.5Z" fill="none" stroke="#333" stroke-width="0.3" />
<path d="M241.7,350.5 L242.9,351.8 L241.2,353.4 L239.9,352.1Z" fill="none" stroke="#333" stroke-width="0.3" />
<path d="M249.0,358.1 L250.3,359.5 L248.5,361.1 L247.3,359.8Z" fill="none" stroke="#333" stroke-width="0.3" />
<path d="M256.4,365.8 L257.6,367.1 L255.9,368.8 L254.6,367.5Z" fill="none" stroke="#333" stroke-width="0.3" />
<path d="M263.7,373.4 L265.0,374.8 L263.3,376.4 L262.0,375.1Z" fill="none" stroke="#333" stroke-width="0.3" />
<path d="M271.1,381.1 L272.3,382.4 L270.6,384.1 L269.4,382.8Z" fill="none" stroke="#333" stroke-width="0.3" />
<path d="M180.1,494.4 L288.3,590.5" fill="none" stroke="#333" stroke-width="0.3" />
<path d="M179.2,495.3 L287.4,591.4" fill="none" stroke="#333" stroke-width="0.3" />
<path d="M238.0,472.4 L292.0,518.0 L330.0,550.0" fill="none" stroke="#333" stroke-width="0.4" />
<path d="M246.3,464.3 L342.5,565.6" fill="none" stroke="#333" stroke-width="0.4" />
<path d="M165.0,487.5 L170.0,489.8 L292.0,599.3 L311.5,616.3 L402.0,658.6 L420.0,668.1 L493.0,699.7 L526.0,701.5" fill="none" stroke="#333" stroke-width="0.4" />
<path d="M294.0,603.0 L312.5,619.0 L402.0,661.0" fill="none" stroke="#333" stroke-width="0.35" />
<path d="M177.5,526.3 L179.1,518.0 L184.9,515.5 L188.3,517.2 L243.0,566.1 L246.3,572.8 L253.0,577.8 L292.0,607.6 L309.0,624.6 L402.0,668.6 L455.7,692.2 L460.7,696.7 L451.5,702.2" fill="none" stroke="#333" stroke-width="0.4" />
<path d="M454.0,705.5 L463.2,701.3 L474.8,701.3 L498.0,709.6 L542.0,719.6 L543.2,717.0 L551.5,723.7 L561.4,725.3 L622.0,739.4 L647.0,746.2 L652.0,751.2" fill="none" stroke="#333" stroke-width="0.4" />
<path d="M295.8,592.2 L309.9,574.0 L320.7,581.5 L309.9,607.2Z" fill="none" stroke="#333" stroke-width="0.4" />
<path d="M317.3,553.2 L324.0,547.4 L342.2,567.3 L336.4,571.5Z" fill="none" stroke="#333" stroke-width="0.35" />
<path d="M318.5,552.3 L337.4,570.8" fill="none" stroke="#333" stroke-width="0.3" />
<path d="M319.6,551.3 L338.4,570.1" fill="none" stroke="#333" stroke-width="0.3" />
<path d="M320.7,550.3 L339.3,569.4" fill="none" stroke="#333" stroke-width="0.3" />
<path d="M321.8,549.4 L340.3,568.7" fill="none" stroke="#333" stroke-width="0.3" />
<path d="M322.9,548.4 L341.3,568.0" fill="none" stroke="#333" stroke-width="0.3" />
<path d="M318.5,552.4 L341.1,568.5" fill="none" stroke="#333" stroke-width="0.3" />
<path d="M322.8,548.6 L337.3,570.8" fill="none" stroke="#333" stroke-width="0.3" />
<path d="M372.1,551.6 L380.4,554.9 L372.1,571.5 L363.0,564.9Z" fill="#8d8d8d" stroke="#333" stroke-width="0" />
<path d="M384.6,529.6 L390.5,522.9 L394.6,529.6 L391.3,534.6Z" fill="#8d8d8d" stroke="#333" stroke-width="0" />
<path d="M353.7,558.7 L367.3,542.9 L376.5,529.3" fill="none" stroke="#333" stroke-width="0.35" />
<path d="M353.7,558.7 L364.6,565.2 L380.9,553.8 L389.6,535.9" fill="none" stroke="#333" stroke-width="0.35" />
<path d="M309.9,613.8 L417.4,660.9" fill="none" stroke="#333" stroke-width="0.4" />
<path d="M344.7,578.1 L402.0,599.7 L436.4,613.0" fill="none" stroke="#333" stroke-width="0.4" />
<path d="M370.2,579.4 L502.6,639.8" fill="none" stroke="#333" stroke-width="0.4" />
<path d="M369.6,580.8 L502.0,641.1" fill="none" stroke="#333" stroke-width="0.4" />
<path d="M390.2,537.3 L525.3,596.4" fill="none" stroke="#333" stroke-width="0.4" />
<path d="M385.7,532.6 L526.3,594.1" fill="none" stroke="#333" stroke-width="0.4" />
<path d="M526.3,598.5 C527.6,601.0 533.0,609.5 533.9,613.7 C534.8,617.9 533.6,618.4 531.7,623.5 C529.8,628.6 525.0,640.5 522.5,644.1 C520.0,647.8 517.5,645.0 516.5,645.2" fill="none" stroke="#333" stroke-width="0.4" />
<path d="M526.3,598.5 L516.5,645.2" fill="none" stroke="#333" stroke-width="0.35" />
<path d="M514.3,616.4 L519.2,618.6 L510.5,638.7 L505.7,636.5Z" fill="none" stroke="#333" stroke-width="0.35" />
<path d="M519.2,618.6 L529.6,622.9 L520.9,640.9 L510.5,638.7" fill="none" stroke="#333" stroke-width="0.35" />
<path d="M349.8,465.2 L397.1,515.5 L389.6,522.9 L339.0,473.5Z" fill="none" stroke="#333" stroke-width="0.4" />
<path d="M300.0,435.0 L383.0,522.1" fill="none" stroke="#333" stroke-width="0.4" />
<path d="M300.0,444.9 L341.5,488.1" fill="none" stroke="#333" stroke-width="0.4" />
<path d="M358.1,499.7 L368.0,489.8 L378.0,499.7" fill="none" stroke="#333" stroke-width="0.35" />
<path d="M281.0,397.0 L373.3,488.5" fill="none" stroke="#333" stroke-width="0.4" />
<path d="M383.2,497.4 L444.2,553.1" fill="none" stroke="#333" stroke-width="0.4" />
<path d="M405.9,519.9 L443.2,554.0" fill="none" stroke="#333" stroke-width="0.4" />
<path d="M468.3,536.7 L502.5,552.0 L496.5,566.1 L485.7,561.7" fill="none" stroke="#333" stroke-width="0.4" />
<path d="M488.4,529.7 L483.5,542.2" fill="none" stroke="#333" stroke-width="0.35" />
<path d="M494.9,541.1 L483.5,566.1" fill="none" stroke="#333" stroke-width="0.35" />
<path d="M445.4,552.5 L485.7,568.3" fill="none" stroke="#333" stroke-width="0.4" />
<path d="M446.5,554.7 L484.6,570.0" fill="none" stroke="#333" stroke-width="0.4" />
<path d="M451.4,548.7 L475.3,523.7" fill="none" stroke="#333" stroke-width="0.35" />
<path d="M513.0,557.3 L513.9,554.8 L516.3,555.6 L539.6,589.6 L562.0,632.8 L583.0,668.0 L608.7,697.9 L609.5,701.2 L604.6,706.2 L614.5,714.5" fill="none" stroke="#333" stroke-width="0.4" />
<path d="M513.0,557.3 L536.3,590.5 L539.8,600.0 L554.8,629.9 L578.0,673.0 L584.6,683.0 L606.2,697.1" fill="none" stroke="#333" stroke-width="0.35" />
<path d="M494.8,572.2 L532.9,589.6 L556.2,631.1 L554.8,631.5" fill="none" stroke="#aaa" stroke-width="1.2" />
<circle cx="539.5" cy="641.7" r="7" fill="none" stroke="#333" stroke-width=".4"/>
<path d="M420.0,669.5 L493.0,701.0 L526.2,702.2" fill="none" stroke="#333" stroke-width="0.35" />
<path d="M521.6,662.2 L535.7,663.9 L539.8,666.4 L539.0,668.9 L580.5,687.1 L573.0,705.4 L529.9,686.3 L524.9,697.9 L507.5,692.9 L519.9,662.2Z" fill="none" stroke="#333" stroke-width="0.4" />
<path d="M530.7,690.5 L566.4,705.4 L563.1,712.9 L527.4,697.9Z" fill="none" stroke="#333" stroke-width="0.4" />
<path d="M561.4,703.7 L566.4,705.4 L563.9,712.9 L558.9,711.2Z" fill="none" stroke="#333" stroke-width="0.35" />
<path d="M580.5,687.1 L589.6,702.1 L583.0,718.7" fill="none" stroke="#333" stroke-width="0.4" />
<path d="M500.0,704.6 L622.0,727.8 L647.0,733.8 L662.0,734.2 L634.5,717.5 L619.5,713.8" fill="none" stroke="#333" stroke-width="0.4" />
<path d="M535.7,663.9 L537.3,656.4 L516.6,654.8 L515.8,644.8 L500.0,639.8" fill="none" stroke="#333" stroke-width="0.35" />
<path d="M609.5,698.8 L604.5,705.0 L619.5,713.8" fill="none" stroke="#333" stroke-width="0.4" />
<path d="M603.7,705.4 L607.9,702.1 L619.5,712.9 L616.2,716.2Z" fill="none" stroke="#333" stroke-width="0.35" />
<path d="M608.7,719.5 L614.5,714.5 L622.0,719.5" fill="none" stroke="#333" stroke-width="0.35" />
<path d="M436.4,615.5 L438.0,622.9 L433.9,624.6" fill="none" stroke="#333" stroke-width="0.35" />
<path d="M434.7,623.8 L443.9,627.9 L442.2,631.6 L433.1,627.6Z" fill="none" stroke="#333" stroke-width="0.35" />
<path d="M432.2,632.6 L437.2,634.2 L436.1,638.7 L431.1,637.1Z" fill="none" stroke="#333" stroke-width="0.35" />
<path d="M428.9,639.9 L438.4,644.5" fill="none" stroke="#333" stroke-width="0.35" />
<path d="M426.4,646.5 L436.4,651.5" fill="none" stroke="#333" stroke-width="0.35" />
<path d="M316.4,364.1 L409.1,453.9" fill="none" stroke="#333" stroke-width="0.4" />
<path d="M281.7,397.7 L316.4,364.1" fill="none" stroke="#333" stroke-width="0.4" />
<path d="M303.4,355.9 L308.8,348.8 L319.7,362.4 L312.6,367.8" fill="none" stroke="#333" stroke-width="0.35" />
<path d="M300.1,359.7 L303.4,355.9 L312.6,367.8 L309.3,371.1" fill="none" stroke="#333" stroke-width="0.35" />
<path d="M282.2,376.5 L303.4,355.9" fill="none" stroke="#333" stroke-width="0.35" />
<path d="M280.0,380.9 L286.5,386.3 L282.7,390.7" fill="none" stroke="#333" stroke-width="0.35" />
<path d="M200.0,417.0 L239.1,471.3" fill="none" stroke="#333" stroke-width="0.4" />
<path d="M204.3,414.8 L244.6,467.0" fill="none" stroke="#333" stroke-width="0.35" />
<path d="M200.0,426.1 L230.4,463.0 L239.1,471.3" fill="none" stroke="#333" stroke-width="0.35" />
<path d="M245.7,469.1 L276.1,436.5 L285.9,445.2 L293.5,439.8 L360.0,506.1" fill="none" stroke="#333" stroke-width="0.4" />
<path d="M245.7,469.1 L271.7,493.0" fill="none" stroke="#333" stroke-width="0.4" />
<path d="M275.0,403.9 L281.5,398.5 L350.0,464.8 L343.5,471.3Z" fill="none" stroke="#333" stroke-width="0.4" />
<path d="M283.7,395.2 L360.0,471.3" fill="none" stroke="#333" stroke-width="0.4" />
<path d="M239.1,471.3 L321.7,549.6" fill="none" stroke="#333" stroke-width="0.4" />
<path d="M235.9,474.6 L317.4,550.0" fill="none" stroke="#333" stroke-width="0.35" />
<path d="M271.7,493.0 L275.0,489.8 L302.2,519.1 L298.9,522.4Z" fill="none" stroke="#333" stroke-width="0.35" />
<path d="M259.8,434.3 L270.7,426.7 L276.1,434.3 L265.2,443.0Z" fill="none" stroke="#333" stroke-width="0.35" />
<path d="M265.2,430.4 L270.7,438.7" fill="none" stroke="#333" stroke-width="0.3" />
<path d="M262.4,438.7 L273.5,430.7" fill="none" stroke="#333" stroke-width="0.3" />
<path d="M229.3,460.4 L234.8,456.1 L244.6,461.5 L239.1,471.3" fill="none" stroke="#333" stroke-width="0.35" />
<path d="M263.0,417.0 L271.7,410.4 L281.5,423.5 L272.8,428.9Z" fill="none" stroke="#333" stroke-width="0.35" />
<path d="M265.2,393.0 L275.0,386.5 L283.7,395.2 L275.0,403.9Z" fill="none" stroke="#333" stroke-width="0.35" />
<path d="M373.2,483.0 L379.9,477.2 L385.7,483.8 L379.0,489.6Z" fill="none" stroke="#333" stroke-width="0.35" />
<path d="M379.9,477.2 L387.3,470.5 L394.0,478.0 L385.7,483.8" fill="none" stroke="#333" stroke-width="0.35" />
<path d="M395.6,462.2 L404.8,453.9 L415.6,463.9 L406.4,473.0Z" fill="none" stroke="#333" stroke-width="0.35" />
<path d="M387.3,470.5 L395.6,462.2" fill="none" stroke="#333" stroke-width="0.35" />
<circle cx="626.3" cy="722.5" r="7.6" fill="#000"/>
<text class="num" x="626.3" y="726.1">1</text>
<circle cx="554.6" cy="687.2" r="7.6" fill="#000"/>
<text class="num" x="554.6" y="690.8">2</text>
<circle cx="426.8" cy="658.3" r="7.6" fill="#000"/>
<text class="num" x="426.8" y="661.9">3</text>
<circle cx="309.2" cy="588.0" r="7.6" fill="#000"/>
<text class="num" x="309.2" y="591.6">4</text>
<circle cx="184.3" cy="480.3" r="7.6" fill="#000"/>
<text class="num" x="184.3" y="483.9">5</text>
<circle cx="368.0" cy="557.0" r="7.6" fill="#000"/>
<text class="num" x="368.0" y="560.6">6</text>
<circle cx="254.4" cy="452.0" r="7.6" fill="#000"/>
<text class="num" x="254.4" y="455.6">7</text>
<circle cx="395.4" cy="474.5" r="7.6" fill="#000"/>
<text class="num" x="395.4" y="478.1">8</text>
<circle cx="300.1" cy="372.8" r="7.6" fill="#000"/>
<text class="num" x="300.1" y="376.4">9</text>
</svg>
<ul class="legend">
<li><span>1.</span>Guard house</li>
<li><span>2.</span>Residents-only clubhouse</li>
<li><span>3.</span>Meditation pavilion</li>
<li><span>4.</span>Hedge maze</li>
<li><span>5.</span>Children’s wading pool</li>
<li><span>6.</span>Cascading waterfall</li>
<li><span>7.</span>Children’s playground</li>
<li><span>8.</span>Reading pavilion</li>
<li><span>9.</span>Fish pond</li>
</ul>
<div class="pg">7</div>
</body></html>
